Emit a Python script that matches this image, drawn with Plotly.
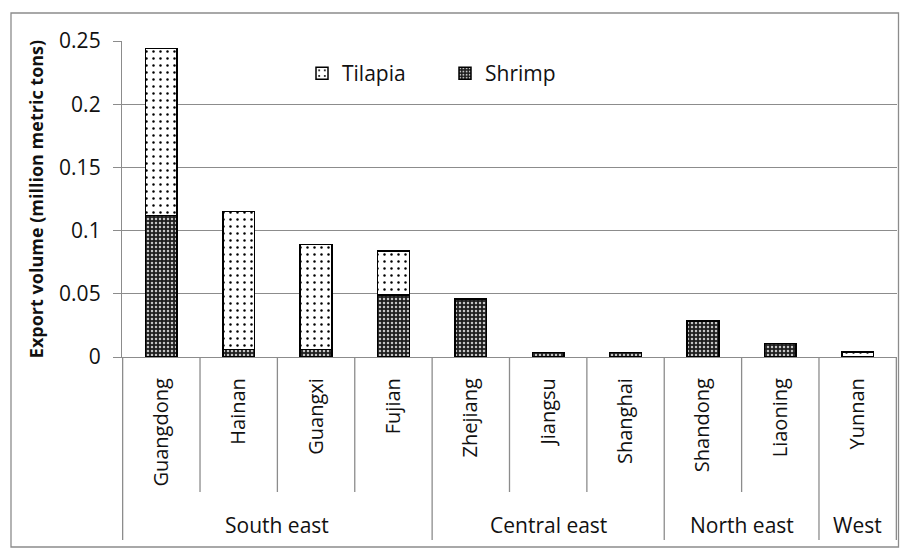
import plotly.graph_objects as go

# Export volume by province (million metric tons)
provinces = ["Guangdong", "Hainan", "Guangxi", "Fujian", "Zhejiang",
             "Jiangsu", "Shanghai", "Shandong", "Liaoning", "Yunnan"]
regions = ["South east", "South east", "South east", "South east",
           "Central east", "Central east", "Central east",
           "North east", "North east", "West"]
shrimp = [0.112, 0.006, 0.006, 0.049, 0.046, 0.0035, 0.0035, 0.0285, 0.0105, 0.0]
tilapia = [0.132, 0.109, 0.083, 0.035, 0.0, 0.0, 0.0, 0.0, 0.0, 0.004]

y_ticks = [0, 0.05, 0.1, 0.15, 0.2, 0.25]
y_tick_text = ["0", "0.05", "0.1", "0.15", "0.2", "0.25"]

W, H = 900, 548
PL, PR, PT, PB = 122, 897, 41, 357   # plot area in pixels
GRAY = "#8c8c8c"
FONT = "Open Sans"


def px_x(px):
    return (px - PL) / (PR - PL)


def px_y(py):
    return (PB - py) / (PB - PT)


fig = go.Figure()
fig.add_trace(go.Bar(
    x=provinces, y=shrimp, name="Shrimp",
    marker=dict(color="#1e1e1e",
                line=dict(color="#000000", width=1.5),
                pattern=dict(shape=".", bgcolor="#1e1e1e", fgcolor="#c4c4c4",
                             size=4, solidity=0.3, fillmode="replace")),
))
fig.add_trace(go.Bar(
    x=provinces, y=tilapia, name="Tilapia",
    marker=dict(color="#ffffff",
                line=dict(color="#000000", width=1.5),
                pattern=dict(shape=".", bgcolor="#ffffff", fgcolor="#000000",
                             size=7, solidity=0.1, fillmode="replace")),
))

shapes = []
# outer chart border
shapes.append(dict(type="rect", xref="paper", yref="paper",
                   x0=px_x(11), x1=px_x(898.5), y0=px_y(547), y1=px_y(13),
                   line=dict(color=GRAY, width=1.3), layer="below"))
# category / region dividers under the axis
n = len(provinces)
for b in range(-1, n):
    xb = b + 0.5
    if b in (-1, n - 1) or regions[b] != regions[b + 1]:
        y_end = px_y(540)
    else:
        y_end = px_y(492)
    shapes.append(dict(type="line", xref="x", yref="paper",
                       x0=xb, x1=xb, y0=0, y1=y_end,
                       line=dict(color=GRAY, width=1.3)))

# region labels centred under their provinces
annotations = []
seen = []
for r in regions:
    if r not in seen:
        seen.append(r)
for r in seen:
    idx = [i for i, g in enumerate(regions) if g == r]
    annotations.append(dict(x=sum(idx) / len(idx), y=px_y(525), xref="x", yref="paper",
                            text=r, showarrow=False,
                            font=dict(family=FONT, size=21, color="#111111"),
                            xanchor="center", yanchor="middle"))

fig.update_layout(
    width=W, height=H,
    margin=dict(l=PL, r=W - PR, t=PT, b=H - PB),
    barmode="stack", bargap=0.59,
    plot_bgcolor="#ffffff", paper_bgcolor="#ffffff",
    font=dict(family=FONT, color="#111111"),
    shapes=shapes, annotations=annotations,
    legend=dict(orientation="h", x=px_x(302), y=px_y(53),
                xanchor="left", yanchor="top",
                traceorder="reversed", entrywidth=98, entrywidthmode="pixels",
                font=dict(family=FONT, size=21, color="#111111"),
                bgcolor="rgba(0,0,0,0)"),
)
fig.update_xaxes(
    type="category", showline=True, linecolor=GRAY, linewidth=1.3,
    showgrid=False, ticks="", tickangle=-90, ticklabelstandoff=12,
    tickfont=dict(family=FONT, size=20, color="#111111"),
)
fig.update_yaxes(
    range=[0, 0.25], tickmode="array", tickvals=y_ticks, ticktext=y_tick_text,
    showline=True, linecolor=GRAY, linewidth=1.3,
    showgrid=True, gridcolor=GRAY, gridwidth=1.3, zeroline=False,
    ticks="outside", ticklen=8, tickcolor=GRAY, tickwidth=1.3,
    ticklabelstandoff=8,
    tickfont=dict(family=FONT, size=21, color="#111111"),
    title=dict(text="<b>Export volume (million metric tons)</b>", standoff=10,
               font=dict(family=FONT, size=18, color="#111111")),
)

fig.write_html("out.html")
